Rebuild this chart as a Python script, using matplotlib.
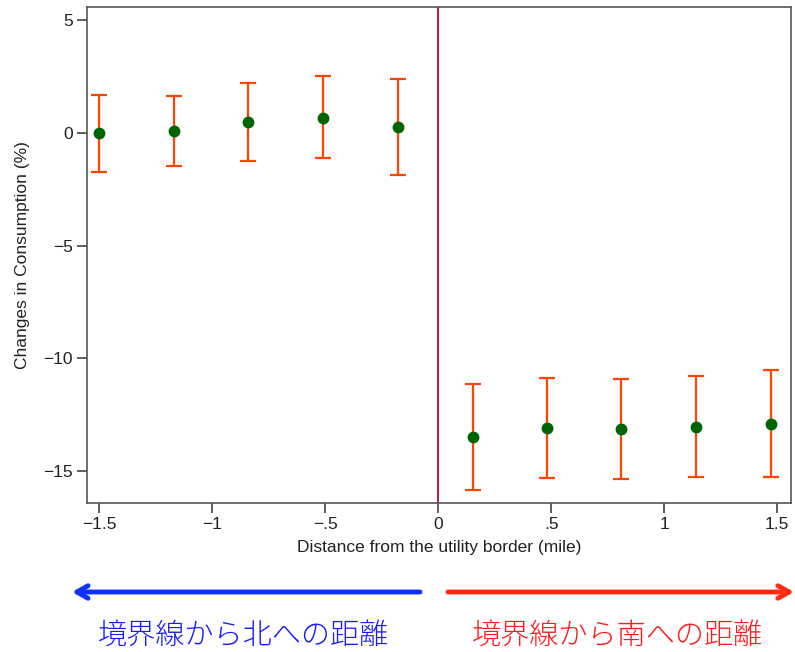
import matplotlib
matplotlib.use("Agg")
import matplotlib.pyplot as plt

# Data
north_x = [-1.50, -1.17, -0.84, -0.51, -0.18]
north_y = [0.01, 0.09, 0.49, 0.68, 0.25]
north_hi = [1.69, 1.64, 2.21, 2.52, 2.37]
north_lo = [-1.72, -1.47, -1.23, -1.11, -1.85]

south_x = [0.152, 0.481, 0.811, 1.142, 1.472]
south_y = [-13.50, -13.10, -13.13, -13.02, -12.89]
south_hi = [-11.14, -10.87, -10.89, -10.79, -10.52]
south_lo = [-15.85, -15.32, -15.36, -15.27, -15.27]

xticks = [-1.5, -1, -0.5, 0, 0.5, 1, 1.5]
xticklabels = ["\u22121.5", "\u22121", "\u2212.5", "0", ".5", "1", "1.5"]
yticks = [5, 0, -5, -10, -15]
yticklabels = ["5", "0", "\u22125", "\u221210", "\u221215"]

xlabel = "Distance from the utility border (mile)"
ylabel = "Changes in Consumption (%)"
north_text = "境界線から北への距離"
south_text = "境界線から南への距離"

plt.rcParams['font.family'] = ['Liberation Sans', 'DejaVu Sans']

fig = plt.figure(figsize=(7.95, 6.52), dpi=100)
ax = fig.add_axes([87/795, 1 - 503/652, (791-87)/795, (503-7.3)/652])

x = north_x + south_x
y = north_y + south_y
hi = north_hi + south_hi
lo = north_lo + south_lo
yerr = [[yy - l for yy, l in zip(y, lo)], [h - yy for yy, h in zip(y, hi)]]

ax.axvline(0, color='#c8143c', lw=1.4, zorder=1)
ax.errorbar(x, y, yerr=yerr, fmt='none', ecolor='#ff4500', elinewidth=1.6,
            capsize=5.5, capthick=1.6, zorder=2)
ax.plot(x, y, 'o', color='#006400', markersize=7.5, zorder=3)

ax.set_xlim(-1.554, 1.561)
ax.set_ylim(-16.41, 5.57)
ax.set_xticks(xticks)
ax.set_xticklabels(xticklabels)
ax.set_yticks(yticks)
ax.set_yticklabels(yticklabels)
ax.tick_params(axis='both', direction='out', length=7, width=1.1, color='#333333',
               labelsize=12.5, labelcolor='#222222', pad=3)
for s in ax.spines.values():
    s.set_color('#555555')
    s.set_linewidth(1.2)

ax.set_xlabel(xlabel, fontsize=12.5, color='#222222', labelpad=6)
ax.set_ylabel(ylabel, fontsize=12.5, color='#222222', labelpad=10)

# Arrows and Japanese labels
ax_an = fig.add_axes([0, 0, 1, 1], facecolor='none')
ax_an.set_axis_off()
ax_an.set_xlim(0, 795)
ax_an.set_ylim(652, 0)
ax_an.annotate('', xy=(72, 592), xytext=(420, 592),
               arrowprops=dict(arrowstyle='->,head_length=0.8,head_width=0.45',
                               color='#1030ff', lw=3.5, shrinkA=0, shrinkB=0))
ax_an.annotate('', xy=(794, 592), xytext=(448, 592),
               arrowprops=dict(arrowstyle='->,head_length=0.8,head_width=0.45',
                               color='#ff2a10', lw=3.5, shrinkA=0, shrinkB=0))
ax_an.text(243, 636, north_text, color='#1a1aff', fontsize=21, ha='center', va='center',
           family=['Noto Sans CJK JP', 'DejaVu Sans'], fontweight='light')
ax_an.text(617, 636, south_text, color='#ff1a1a', fontsize=21, ha='center', va='center',
           family=['Noto Sans CJK JP', 'DejaVu Sans'], fontweight='light')

fig.savefig('out.png', dpi=100)
